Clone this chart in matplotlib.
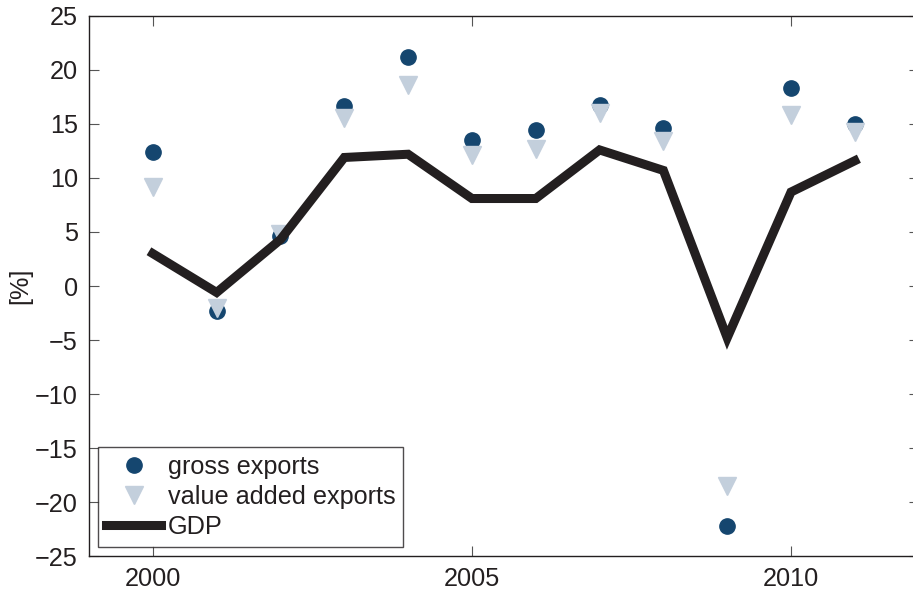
import matplotlib.pyplot as plt

plt.rcParams['font.family'] = ['Liberation Sans', 'DejaVu Sans']

# Annual growth rates, 2000-2011
anios = [2000, 2001, 2002, 2003, 2004, 2005, 2006, 2007, 2008, 2009, 2010, 2011]
export_bruto = [12.4, -2.3, 4.6, 16.7, 21.2, 13.5, 14.4, 16.8, 14.6, -22.2, 18.3, 15.0]
export_va = [9.2, -2.0, 4.8, 15.6, 18.6, 12.1, 12.7, 16.0, 13.4, -18.5, 15.8, 14.3]
pib = [3.0, -0.6, 4.3, 11.9, 12.2, 8.1, 8.1, 12.6, 10.7, -4.8, 8.7, 11.6]

azul = '#15466f'
gris_azul = '#c3cfdc'
negro = '#231f20'
fuente = 18.2

fig = plt.figure(figsize=(9.13, 5.90), dpi=100)
ax = fig.add_axes([0.0975, 0.0576, 0.9087, 0.9153])

ax.plot(anios, export_bruto, linestyle='none', marker='o', markersize=11,
        color=azul, label='gross exports', zorder=3)
ax.plot(anios, export_va, linestyle='none', marker='v', markersize=13,
        color=gris_azul, label='value added exports', zorder=3)
ax.plot(anios, pib, color=negro, linewidth=6.5, solid_joinstyle='miter',
        label='GDP', zorder=4)

ax.set_xlim(1999, 2012)
ax.set_ylim(-25, 25)
ax.set_xticks([2000, 2005, 2010])
ax.set_yticks(range(-25, 26, 5))
ax.set_yticklabels([str(v).replace('-', '\u2212') for v in range(-25, 26, 5)])
ax.tick_params(direction='in', length=7, width=0.8, color='#555555',
               labelsize=fuente, top=True, right=True, pad=8, labelcolor=negro)
for s in ax.spines.values():
    s.set_linewidth(1.0)
    s.set_color(negro)
ax.spines['right'].set_visible(False)
ax.set_ylabel('[%]', fontsize=fuente, color=negro)
ax.yaxis.set_label_coords(-0.069, 0.5)

leg = ax.legend(loc='lower left', bbox_to_anchor=(0.011, 0.017), borderaxespad=0,
                fontsize=fuente, frameon=True, fancybox=False, handlelength=2.2,
                handletextpad=0.25, labelspacing=0.25, borderpad=0.3)
leg.get_frame().set_edgecolor(negro)
leg.get_frame().set_linewidth(1.0)
for t in leg.get_texts():
    t.set_color(negro)

fig.savefig('out.png', dpi=100)
